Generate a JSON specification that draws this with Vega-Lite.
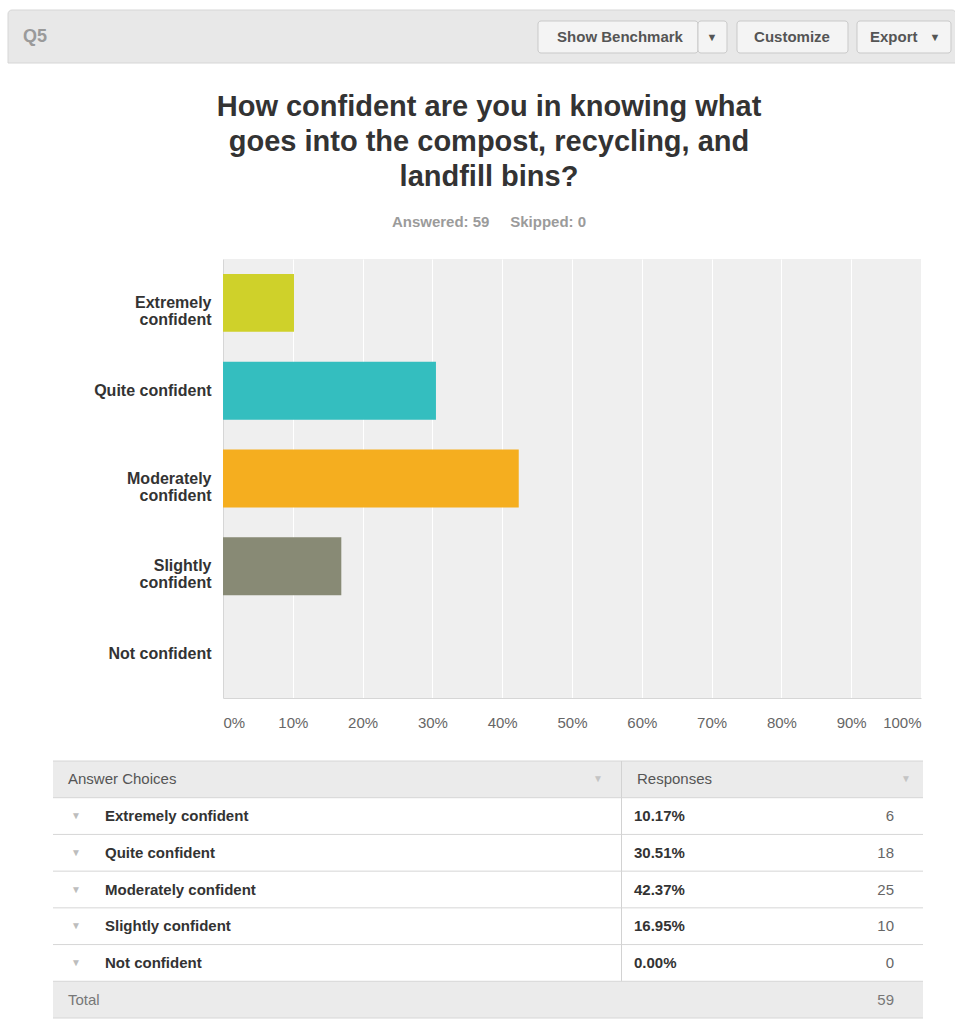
{
  "$schema": "https://vega.github.io/schema/vega-lite/v6.json",
  "padding": {"left": 7, "top": 9, "right": 0, "bottom": 7},
  "autosize": {"type": "pad"},
  "background": "#ffffff",
  "spacing": 63,
  "bounds": "flush",
  "config": {"font": "Liberation Sans", "view": {"stroke": null}},
  "datasets": {
    "responses": [
      {"choice": "Extremely confident", "pct": 0.1017, "count": 6},
      {"choice": "Quite confident", "pct": 0.3051, "count": 18},
      {"choice": "Moderately confident", "pct": 0.4237, "count": 25},
      {"choice": "Slightly confident", "pct": 0.1695, "count": 10},
      {"choice": "Not confident", "pct": 0.0, "count": 0}
    ],
    "panel": [{"question": "Q5"}],
    "tablehead": [{"row": "Answer Choices", "col2": "Responses"}]
  },
  "vconcat": [
    {
      "width": 698,
      "height": 186,
      "data": {"name": "panel"},
      "layer": [
        {
          "mark": {"type": "rect", "fill": "#e8e8e8", "stroke": "#d6d6d6", "strokeWidth": 1, "cornerRadiusTopLeft": 4, "cornerRadiusTopRight": 4},
          "encoding": {
            "x": {"datum": 7, "type": "quantitative", "scale": {"domain": [0, 955], "range": [-222, 733]}, "axis": null},
            "x2": {"datum": 955},
            "y": {"datum": 9, "type": "quantitative", "scale": {"domain": [9, 195], "range": [0, 186]}, "axis": null},
            "y2": {"datum": 62}
          }
        },
        {
          "mark": {"type": "text", "align": "left", "baseline": "middle", "fontSize": 18, "fontWeight": "bold", "fill": "#9a9a9a"},
          "encoding": {
            "x": {"datum": 22, "type": "quantitative", "scale": {"domain": [0, 955], "range": [-222, 733]}, "axis": null},
            "y": {"datum": 36, "type": "quantitative", "scale": {"domain": [9, 195], "range": [0, 186]}, "axis": null},
            "text": {"field": "question"}
          }
        },
        {
          "mark": {"type": "rect", "fill": "#f4f4f4", "stroke": "#c9c9c9", "strokeWidth": 1, "cornerRadius": 3},
          "encoding": {
            "x": {"datum": 537, "type": "quantitative", "scale": {"domain": [0, 955], "range": [-222, 733]}, "axis": null},
            "x2": {"datum": 697},
            "y": {"datum": 20, "type": "quantitative", "scale": {"domain": [9, 195], "range": [0, 186]}, "axis": null},
            "y2": {"datum": 52}
          }
        },
        {
          "mark": {"type": "rect", "fill": "#f4f4f4", "stroke": "#c9c9c9", "strokeWidth": 1, "cornerRadius": 3},
          "encoding": {
            "x": {"datum": 697, "type": "quantitative", "scale": {"domain": [0, 955], "range": [-222, 733]}, "axis": null},
            "x2": {"datum": 726},
            "y": {"datum": 20, "type": "quantitative", "scale": {"domain": [9, 195], "range": [0, 186]}, "axis": null},
            "y2": {"datum": 52}
          }
        },
        {
          "mark": {"type": "rect", "fill": "#f4f4f4", "stroke": "#c9c9c9", "strokeWidth": 1, "cornerRadius": 3},
          "encoding": {
            "x": {"datum": 736, "type": "quantitative", "scale": {"domain": [0, 955], "range": [-222, 733]}, "axis": null},
            "x2": {"datum": 847},
            "y": {"datum": 20, "type": "quantitative", "scale": {"domain": [9, 195], "range": [0, 186]}, "axis": null},
            "y2": {"datum": 52}
          }
        },
        {
          "mark": {"type": "rect", "fill": "#f4f4f4", "stroke": "#c9c9c9", "strokeWidth": 1, "cornerRadius": 3},
          "encoding": {
            "x": {"datum": 856, "type": "quantitative", "scale": {"domain": [0, 955], "range": [-222, 733]}, "axis": null},
            "x2": {"datum": 950},
            "y": {"datum": 20, "type": "quantitative", "scale": {"domain": [9, 195], "range": [0, 186]}, "axis": null},
            "y2": {"datum": 52}
          }
        },
        {
          "mark": {"type": "text", "text": "Show Benchmark", "align": "center", "baseline": "middle", "fontSize": 15, "fontWeight": "bold", "fill": "#555555"},
          "encoding": {
            "x": {"datum": 619, "type": "quantitative", "scale": {"domain": [0, 955], "range": [-222, 733]}, "axis": null},
            "y": {"datum": 36, "type": "quantitative", "scale": {"domain": [9, 195], "range": [0, 186]}, "axis": null}
          }
        },
        {
          "mark": {"type": "text", "text": "▼", "align": "center", "baseline": "middle", "fontSize": 11, "fill": "#555555"},
          "encoding": {
            "x": {"datum": 711, "type": "quantitative", "scale": {"domain": [0, 955], "range": [-222, 733]}, "axis": null},
            "y": {"datum": 37, "type": "quantitative", "scale": {"domain": [9, 195], "range": [0, 186]}, "axis": null}
          }
        },
        {
          "mark": {"type": "text", "text": "Customize", "align": "center", "baseline": "middle", "fontSize": 15, "fontWeight": "bold", "fill": "#555555"},
          "encoding": {
            "x": {"datum": 791, "type": "quantitative", "scale": {"domain": [0, 955], "range": [-222, 733]}, "axis": null},
            "y": {"datum": 36, "type": "quantitative", "scale": {"domain": [9, 195], "range": [0, 186]}, "axis": null}
          }
        },
        {
          "mark": {"type": "text", "text": "Export", "align": "left", "baseline": "middle", "fontSize": 15, "fontWeight": "bold", "fill": "#555555"},
          "encoding": {
            "x": {"datum": 869, "type": "quantitative", "scale": {"domain": [0, 955], "range": [-222, 733]}, "axis": null},
            "y": {"datum": 36, "type": "quantitative", "scale": {"domain": [9, 195], "range": [0, 186]}, "axis": null}
          }
        },
        {
          "mark": {"type": "text", "text": "▼", "align": "center", "baseline": "middle", "fontSize": 11, "fill": "#555555"},
          "encoding": {
            "x": {"datum": 934, "type": "quantitative", "scale": {"domain": [0, 955], "range": [-222, 733]}, "axis": null},
            "y": {"datum": 37, "type": "quantitative", "scale": {"domain": [9, 195], "range": [0, 186]}, "axis": null}
          }
        }
      ]
    },
    {
      "width": 698,
      "height": 439,
      "view": {"fill": "#efefef", "stroke": null},
      "title": {
        "text": ["How confident are you in knowing what", "goes into the compost, recycling, and", "landfill bins?"],
        "subtitle": "Answered: 59\u00a0\u00a0\u00a0\u00a0 Skipped: 0",
        "anchor": "middle",
        "frame": "group",
        "dx": -83,
        "offset": 29,
        "font": "Liberation Sans",
        "fontSize": 29,
        "fontWeight": "bold",
        "color": "#333333",
        "lineHeight": 35,
        "subtitleFont": "Liberation Sans",
        "subtitleFontSize": 15,
        "subtitleFontWeight": "bold",
        "subtitleColor": "#9b9b9b",
        "subtitlePadding": 23
      },
      "data": {"name": "responses"},
      "mark": {"type": "bar"},
      "encoding": {
        "y": {
          "field": "choice",
          "type": "nominal",
          "sort": ["Extremely confident", "Quite confident", "Moderately confident", "Slightly confident", "Not confident"],
          "scale": {"paddingInner": 0.34, "paddingOuter": 0.17},
          "axis": {
            "title": null,
            "ticks": false,
            "domainColor": "#d6d6d6",
            "labelPadding": 12,
            "labelFontSize": 16,
            "labelFontWeight": "bold",
            "labelColor": "#333333",
            "labelLimit": 250,
            "labelLineHeight": 17,
            "labelExpr": "indexof(['Extremely confident','Moderately confident','Slightly confident'], datum.label) >= 0 ? split(datum.label, ' ') : datum.label"
          }
        },
        "x": {
          "field": "pct",
          "type": "quantitative",
          "scale": {"domain": [0, 1]},
          "axis": {
            "title": null,
            "values": [0, 0.1, 0.2, 0.3, 0.4, 0.5, 0.6, 0.7, 0.8, 0.9, 1],
            "format": ".0%",
            "grid": true,
            "gridColor": "#ffffff",
            "gridWidth": 1,
            "ticks": false,
            "domainColor": "#d6d6d6",
            "labelFlush": true,
            "labelPadding": 17,
            "labelFontSize": 15,
            "labelColor": "#666666"
          }
        },
        "color": {
          "field": "choice",
          "type": "nominal",
          "scale": {
            "domain": ["Extremely confident", "Quite confident", "Moderately confident", "Slightly confident", "Not confident"],
            "range": ["#cfd12a", "#34bebf", "#f5ae1f", "#888a75", "#9c9c9c"]
          },
          "legend": null
        }
      }
    },
    {
      "width": 698,
      "height": 257,
      "layer": [
        {
          "data": {"name": "tablehead"},
          "mark": {"type": "rect", "fill": "#ebebeb"},
          "encoding": {
            "x": {"datum": 52, "type": "quantitative", "scale": {"domain": [0, 955], "range": [-222, 733]}, "axis": null},
            "x2": {"datum": 922},
            "y": {"field": "row", "type": "nominal", "scale": {"domain": ["Answer Choices", "Extremely confident", "Quite confident", "Moderately confident", "Slightly confident", "Not confident", "Total"], "paddingInner": 0, "paddingOuter": 0}, "axis": null}
          }
        },
        {
          "data": {"name": "responses"},
          "transform": [{"aggregate": [{"op": "sum", "field": "count", "as": "total"}]}],
          "layer": [
            {
              "mark": {"type": "rect", "fill": "#ebebeb"},
              "encoding": {
                "x": {"datum": 52, "type": "quantitative", "scale": {"domain": [0, 955], "range": [-222, 733]}, "axis": null},
                "x2": {"datum": 922},
                "y": {"datum": "Total", "type": "nominal", "scale": {"domain": ["Answer Choices", "Extremely confident", "Quite confident", "Moderately confident", "Slightly confident", "Not confident", "Total"], "paddingInner": 0, "paddingOuter": 0}, "axis": null}
              }
            },
            {
              "mark": {"type": "rule", "stroke": "#d6d6d6", "strokeWidth": 1},
              "encoding": {
                "x": {"datum": 52, "type": "quantitative", "scale": {"domain": [0, 955], "range": [-222, 733]}, "axis": null},
                "x2": {"datum": 922},
                "y": {"datum": "Total", "type": "nominal", "bandPosition": 0, "scale": {"domain": ["Answer Choices", "Extremely confident", "Quite confident", "Moderately confident", "Slightly confident", "Not confident", "Total"], "paddingInner": 0, "paddingOuter": 0}, "axis": null}
              }
            },
            {
              "mark": {"type": "rule", "stroke": "#d6d6d6", "strokeWidth": 1},
              "encoding": {
                "x": {"datum": 52, "type": "quantitative", "scale": {"domain": [0, 955], "range": [-222, 733]}, "axis": null},
                "x2": {"datum": 922},
                "y": {"datum": "Total", "type": "nominal", "bandPosition": 1, "scale": {"domain": ["Answer Choices", "Extremely confident", "Quite confident", "Moderately confident", "Slightly confident", "Not confident", "Total"], "paddingInner": 0, "paddingOuter": 0}, "axis": null}
              }
            },
            {
              "mark": {"type": "text", "text": "Total", "align": "left", "baseline": "middle", "fontSize": 15, "fill": "#777777"},
              "encoding": {
                "x": {"datum": 67, "type": "quantitative", "scale": {"domain": [0, 955], "range": [-222, 733]}, "axis": null},
                "y": {"datum": "Total", "type": "nominal", "scale": {"domain": ["Answer Choices", "Extremely confident", "Quite confident", "Moderately confident", "Slightly confident", "Not confident", "Total"], "paddingInner": 0, "paddingOuter": 0}, "axis": null}
              }
            },
            {
              "mark": {"type": "text", "align": "right", "baseline": "middle", "fontSize": 15, "fill": "#777777"},
              "encoding": {
                "x": {"datum": 893, "type": "quantitative", "scale": {"domain": [0, 955], "range": [-222, 733]}, "axis": null},
                "y": {"datum": "Total", "type": "nominal", "scale": {"domain": ["Answer Choices", "Extremely confident", "Quite confident", "Moderately confident", "Slightly confident", "Not confident", "Total"], "paddingInner": 0, "paddingOuter": 0}, "axis": null},
                "text": {"field": "total", "type": "quantitative"}
              }
            }
          ]
        },
        {
          "data": {"name": "tablehead"},
          "layer": [
            {
              "mark": {"type": "rule", "stroke": "#d6d6d6", "strokeWidth": 1},
              "encoding": {
                "x": {"datum": 52, "type": "quantitative", "scale": {"domain": [0, 955], "range": [-222, 733]}, "axis": null},
                "x2": {"datum": 922},
                "y": {"field": "row", "type": "nominal", "bandPosition": 0, "scale": {"domain": ["Answer Choices", "Extremely confident", "Quite confident", "Moderately confident", "Slightly confident", "Not confident", "Total"], "paddingInner": 0, "paddingOuter": 0}, "axis": null}
              }
            },
            {
              "mark": {"type": "rect", "fill": "#d2d2d2"},
              "encoding": {
                "x": {"datum": 620, "type": "quantitative", "scale": {"domain": [0, 955], "range": [-222, 733]}, "axis": null},
                "x2": {"datum": 621},
                "y": {"field": "row", "type": "nominal", "scale": {"domain": ["Answer Choices", "Extremely confident", "Quite confident", "Moderately confident", "Slightly confident", "Not confident", "Total"], "paddingInner": 0, "paddingOuter": 0}, "axis": null}
              }
            },
            {
              "mark": {"type": "text", "align": "left", "baseline": "middle", "fontSize": 15, "fill": "#555555"},
              "encoding": {
                "x": {"datum": 67, "type": "quantitative", "scale": {"domain": [0, 955], "range": [-222, 733]}, "axis": null},
                "y": {"field": "row", "type": "nominal", "scale": {"domain": ["Answer Choices", "Extremely confident", "Quite confident", "Moderately confident", "Slightly confident", "Not confident", "Total"], "paddingInner": 0, "paddingOuter": 0}, "axis": null},
                "text": {"field": "row"}
              }
            },
            {
              "mark": {"type": "text", "align": "left", "baseline": "middle", "fontSize": 15, "fill": "#555555"},
              "encoding": {
                "x": {"datum": 636, "type": "quantitative", "scale": {"domain": [0, 955], "range": [-222, 733]}, "axis": null},
                "y": {"field": "row", "type": "nominal", "scale": {"domain": ["Answer Choices", "Extremely confident", "Quite confident", "Moderately confident", "Slightly confident", "Not confident", "Total"], "paddingInner": 0, "paddingOuter": 0}, "axis": null},
                "text": {"field": "col2"}
              }
            },
            {
              "mark": {"type": "text", "text": "▼", "align": "center", "baseline": "middle", "fontSize": 10, "fill": "#c4c4c4"},
              "encoding": {
                "x": {"datum": 597, "type": "quantitative", "scale": {"domain": [0, 955], "range": [-222, 733]}, "axis": null},
                "y": {"field": "row", "type": "nominal", "scale": {"domain": ["Answer Choices", "Extremely confident", "Quite confident", "Moderately confident", "Slightly confident", "Not confident", "Total"], "paddingInner": 0, "paddingOuter": 0}, "axis": null}
              }
            },
            {
              "mark": {"type": "text", "text": "▼", "align": "center", "baseline": "middle", "fontSize": 10, "fill": "#c4c4c4"},
              "encoding": {
                "x": {"datum": 905, "type": "quantitative", "scale": {"domain": [0, 955], "range": [-222, 733]}, "axis": null},
                "y": {"field": "row", "type": "nominal", "scale": {"domain": ["Answer Choices", "Extremely confident", "Quite confident", "Moderately confident", "Slightly confident", "Not confident", "Total"], "paddingInner": 0, "paddingOuter": 0}, "axis": null}
              }
            }
          ]
        },
        {
          "data": {"name": "responses"},
          "layer": [
            {
              "mark": {"type": "rule", "stroke": "#d6d6d6", "strokeWidth": 1},
              "encoding": {
                "x": {"datum": 52, "type": "quantitative", "scale": {"domain": [0, 955], "range": [-222, 733]}, "axis": null},
                "x2": {"datum": 922},
                "y": {"field": "choice", "type": "nominal", "bandPosition": 0, "scale": {"domain": ["Answer Choices", "Extremely confident", "Quite confident", "Moderately confident", "Slightly confident", "Not confident", "Total"], "paddingInner": 0, "paddingOuter": 0}, "axis": null}
              }
            },
            {
              "mark": {"type": "rect", "fill": "#d2d2d2"},
              "encoding": {
                "x": {"datum": 620, "type": "quantitative", "scale": {"domain": [0, 955], "range": [-222, 733]}, "axis": null},
                "x2": {"datum": 621},
                "y": {"field": "choice", "type": "nominal", "scale": {"domain": ["Answer Choices", "Extremely confident", "Quite confident", "Moderately confident", "Slightly confident", "Not confident", "Total"], "paddingInner": 0, "paddingOuter": 0}, "axis": null}
              }
            },
            {
              "mark": {"type": "text", "text": "▼", "align": "center", "baseline": "middle", "fontSize": 10, "fill": "#bdbdbd"},
              "encoding": {
                "x": {"datum": 75, "type": "quantitative", "scale": {"domain": [0, 955], "range": [-222, 733]}, "axis": null},
                "y": {"field": "choice", "type": "nominal", "scale": {"domain": ["Answer Choices", "Extremely confident", "Quite confident", "Moderately confident", "Slightly confident", "Not confident", "Total"], "paddingInner": 0, "paddingOuter": 0}, "axis": null}
              }
            },
            {
              "mark": {"type": "text", "align": "left", "baseline": "middle", "fontSize": 15, "fontWeight": "bold", "fill": "#333333"},
              "encoding": {
                "x": {"datum": 104, "type": "quantitative", "scale": {"domain": [0, 955], "range": [-222, 733]}, "axis": null},
                "y": {"field": "choice", "type": "nominal", "scale": {"domain": ["Answer Choices", "Extremely confident", "Quite confident", "Moderately confident", "Slightly confident", "Not confident", "Total"], "paddingInner": 0, "paddingOuter": 0}, "axis": null},
                "text": {"field": "choice"}
              }
            },
            {
              "mark": {"type": "text", "align": "left", "baseline": "middle", "fontSize": 15, "fontWeight": "bold", "fill": "#333333"},
              "encoding": {
                "x": {"datum": 633, "type": "quantitative", "scale": {"domain": [0, 955], "range": [-222, 733]}, "axis": null},
                "y": {"field": "choice", "type": "nominal", "scale": {"domain": ["Answer Choices", "Extremely confident", "Quite confident", "Moderately confident", "Slightly confident", "Not confident", "Total"], "paddingInner": 0, "paddingOuter": 0}, "axis": null},
                "text": {"field": "pct", "type": "quantitative", "format": ".2%"}
              }
            },
            {
              "mark": {"type": "text", "align": "right", "baseline": "middle", "fontSize": 15, "fill": "#666666"},
              "encoding": {
                "x": {"datum": 893, "type": "quantitative", "scale": {"domain": [0, 955], "range": [-222, 733]}, "axis": null},
                "y": {"field": "choice", "type": "nominal", "scale": {"domain": ["Answer Choices", "Extremely confident", "Quite confident", "Moderately confident", "Slightly confident", "Not confident", "Total"], "paddingInner": 0, "paddingOuter": 0}, "axis": null},
                "text": {"field": "count", "type": "quantitative"}
              }
            }
          ]
        }
      ]
    }
  ]
}
